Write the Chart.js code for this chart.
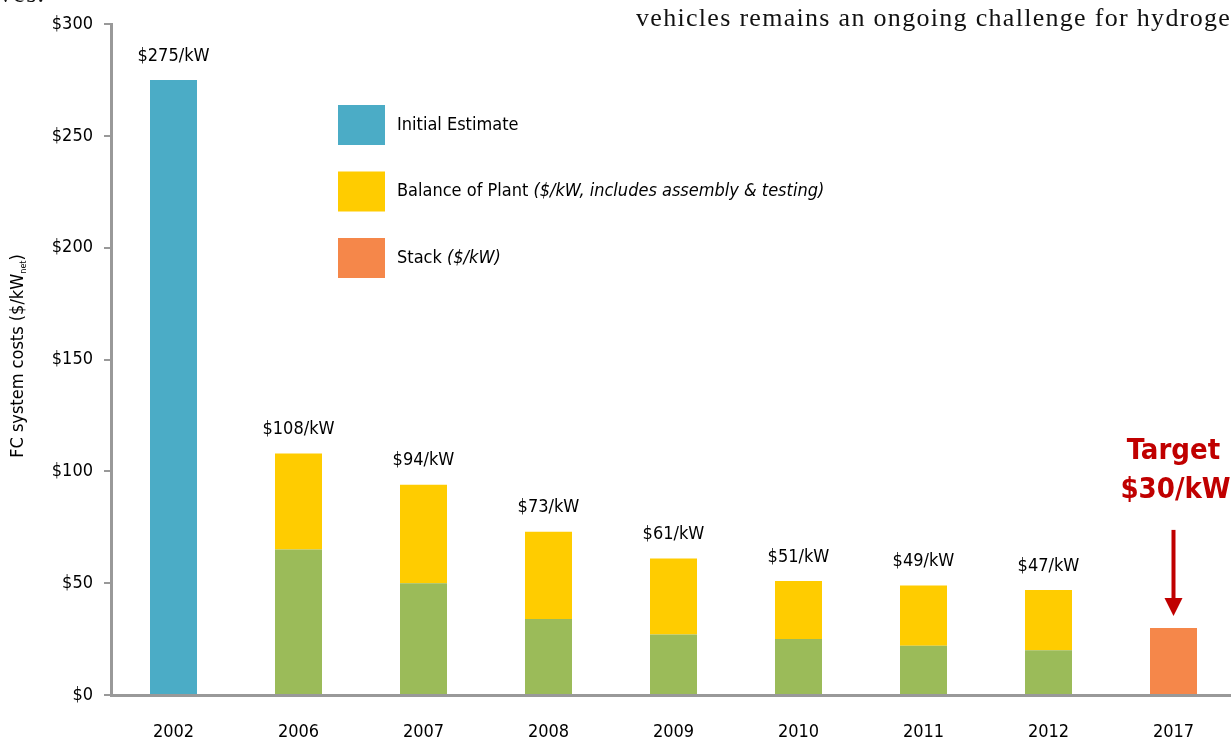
<!DOCTYPE html>
<html>
<head>
<meta charset="utf-8">
<script src="https://cdn.jsdelivr.net/npm/chart.js@4"></script>
<style>
  html, body { margin: 0; padding: 0; background: #fff; overflow: hidden; }
  #wrap { position: relative; width: 1240px; height: 738px; }
  .doc { position: absolute; font-family: "Liberation Serif", "DejaVu Serif", serif; font-size: 26px; letter-spacing: 1.3px; color: #111; white-space: nowrap; }
</style>
</head>
<body>
<div id="wrap">
  <canvas id="c" width="1240" height="738"></canvas>
  <div class="doc" style="left:-1px; top:-21px;">ves.</div>
  <div class="doc" style="left:636px; top:3px;">vehicles remains an ongoing challenge for hydrogen</div>
</div>
<script>
const years = ['2002', '2006', '2007', '2008', '2009', '2010', '2011', '2012', '2017'];
const initialEstimate = [275, null, null, null, null, null, null, null, null];
const stackCost = [null, 65, 50, 34, 27, 25, 22, 20, 30];
const balanceOfPlant = [null, 43, 44, 39, 34, 26, 27, 27, null];
const yTicks = [0, 50, 100, 150, 200, 250, 300];
const targetIndex = 8;

const FONT = '"DejaVu Sans Condensed", "Liberation Sans Narrow", "Liberation Sans", sans-serif';
const BLUE = '#4BACC6', GREEN = '#9BBB59', YELLOW = '#FFCC00', ORANGE = '#F5874A', RED = '#C00000';
const AXIS = '#999999';

const stackColors = years.map((y, i) => i === targetIndex ? ORANGE : GREEN);

const annotations = {
  id: 'annotations',
  afterDatasetsDraw(chart) {
    const { ctx, scales: { x, y } } = chart;
    ctx.save();
    ctx.fillStyle = '#000';
    ctx.textAlign = 'center';
    ctx.textBaseline = 'middle';
    ctx.font = '18px ' + FONT;
    // totals above bars
    years.forEach((yr, i) => {
      if (i === targetIndex) return;
      const total = (initialEstimate[i] || 0) + (stackCost[i] || 0) + (balanceOfPlant[i] || 0);
      ctx.fillText('$' + total + '/kW', x.getPixelForValue(i), y.getPixelForValue(total) - 24);
    });

    // target note
    const tx = x.getPixelForValue(targetIndex);
    const tip = y.getPixelForValue(stackCost[targetIndex]) - 12;
    ctx.fillStyle = RED;
    ctx.font = 'bold 29px ' + FONT;
    ctx.fillText('Target', tx, tip - 164);
    ctx.fillText('$30/kW', tx + 2, tip - 125);
    ctx.strokeStyle = RED;
    ctx.lineWidth = 4;
    ctx.beginPath();
    ctx.moveTo(tx, tip - 86);
    ctx.lineTo(tx, tip - 16);
    ctx.stroke();
    ctx.beginPath();
    ctx.moveTo(tx - 9, tip - 18);
    ctx.lineTo(tx + 9, tip - 18);
    ctx.lineTo(tx, tip);
    ctx.closePath();
    ctx.fill();

    // legend
    const items = [
      [BLUE, 'Initial Estimate', ''],
      [YELLOW, 'Balance of Plant ', '($/kW, includes assembly & testing)'],
      [ORANGE, 'Stack ', '($/kW)']
    ];
    items.forEach(([col, txt, it], k) => {
      const cy = 125 + k * 66.5;
      ctx.fillStyle = col;
      ctx.fillRect(338, cy - 20, 47, 40);
      ctx.fillStyle = '#000';
      ctx.textAlign = 'left';
      ctx.font = '18px ' + FONT;
      ctx.fillText(txt, 397, cy);
      const w = ctx.measureText(txt).width;
      ctx.font = 'italic 18px ' + FONT;
      ctx.fillText(it, 397 + w, cy);
    });

    // y title with subscript
    ctx.translate(18, 356);
    ctx.rotate(-Math.PI / 2);
    ctx.textAlign = 'left';
    ctx.font = '18px ' + FONT;
    const a = 'FC system costs ($/kW';
    const wa = ctx.measureText(a).width;
    ctx.font = '9px ' + FONT;
    const wn = ctx.measureText('net').width;
    ctx.font = '18px ' + FONT;
    const wb = ctx.measureText(')').width;
    const start = -(wa + wn + wb) / 2;
    ctx.fillText(a, start, 0);
    ctx.font = '9px ' + FONT;
    ctx.fillText('net', start + wa, 6);
    ctx.font = '18px ' + FONT;
    ctx.fillText(')', start + wa + wn, 0);
    ctx.restore();
  }
};

new Chart(document.getElementById('c').getContext('2d'), {
  type: 'bar',
  data: {
    labels: years,
    datasets: [
      { label: 'Initial Estimate', data: initialEstimate, backgroundColor: BLUE },
      { label: 'Stack ($/kW)', data: stackCost, backgroundColor: stackColors },
      { label: 'Balance of Plant', data: balanceOfPlant, backgroundColor: YELLOW }
    ]
  },
  options: {
    responsive: false,
    animation: false,
    layout: { padding: { top: 24, right: 4, left: 0, bottom: 0 } },
    datasets: { bar: { barPercentage: 0.376, categoryPercentage: 1, borderWidth: 0 } },
    plugins: { legend: { display: false }, tooltip: { enabled: false } },
    scales: {
      x: {
        stacked: true,
        afterFit(s) { s.height = 43; },
        grid: { display: false },
        border: { display: true, color: AXIS, width: 3 },
        ticks: { color: '#000', padding: 19, font: { family: FONT, size: 18 } }
      },
      y: {
        stacked: true,
        min: 0, max: 300,
        afterFit(s) { s.width = 111; },
        afterBuildTicks(s) { s.ticks = yTicks.map(v => ({ value: v })); },
        grid: { display: true, drawOnChartArea: false, drawTicks: true, tickLength: 7, color: AXIS, lineWidth: 2 },
        border: { display: true, color: AXIS, width: 3 },
        ticks: { color: '#000', padding: 11, font: { family: FONT, size: 18 }, callback: v => '$' + v }
      }
    }
  },
  plugins: [annotations]
});
</script>
</body>
</html>
